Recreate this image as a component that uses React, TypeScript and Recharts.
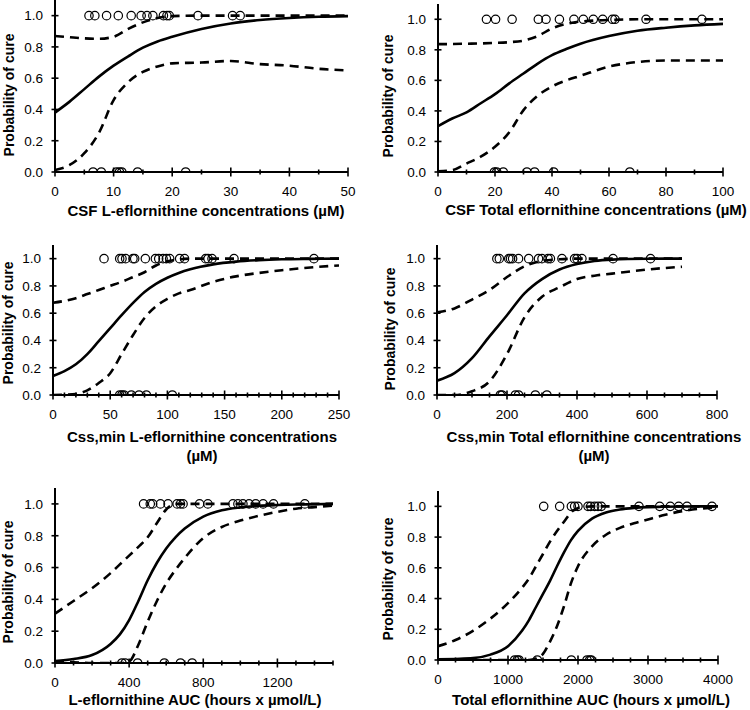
import React from "react";
import { ComposedChart, Line, Scatter, XAxis, YAxis } from "recharts";

const FONT = '"Liberation Sans", Arial, sans-serif';

// y axis (shared by all panels)
const yTicks = [0, 0.2, 0.4, 0.6, 0.8, 1.0];

// panel A: CSF L-eflornithine
const aGrid = [0, 2.5, 5, 7.5, 10, 12.5, 15, 17.5, 20, 25, 30, 35, 40, 45, 50];
const aFit = [0.38, 0.45, 0.53, 0.61, 0.68, 0.74, 0.795, 0.835, 0.865, 0.915, 0.95, 0.972, 0.985, 0.993, 0.997];
const aUpper = [0.87, 0.862, 0.855, 0.852, 0.865, 0.915, 0.957, 0.985, 0.997, 1, 1, 1, 1, 1, 1];
const aLower = [0.013, 0.045, 0.12, 0.25, 0.46, 0.575, 0.64, 0.675, 0.695, 0.7, 0.71, 0.69, 0.68, 0.66, 0.65];
const aCured = [5.8, 6.8, 8.8, 10.8, 13.0, 14.7, 15.7, 16.7, 18.5, 19.1, 19.5, 24.4, 30.3, 31.6];
const aFailed = [6.5, 7.9, 10.5, 11.0, 11.4, 14.1, 22.3];
const aMajor = [0, 10, 20, 30, 40, 50];
const aMinor = [5, 15, 25, 35, 45];

// panel B: CSF total eflornithine
const bGrid = [0, 5, 10, 15, 20, 25, 30, 35, 40, 45, 50, 60, 70, 80, 90, 100];
const bFit = [0.3, 0.35, 0.39, 0.45, 0.51, 0.58, 0.645, 0.71, 0.765, 0.805, 0.84, 0.89, 0.925, 0.945, 0.96, 0.97];
const bUpper = [0.837, 0.838, 0.84, 0.842, 0.845, 0.85, 0.86, 0.89, 0.94, 0.97, 0.985, 0.995, 1, 1, 1, 1];
const bLower = [0.005, 0.012, 0.055, 0.1, 0.165, 0.26, 0.405, 0.5, 0.56, 0.6, 0.63, 0.69, 0.72, 0.73, 0.73, 0.73];
const bCured = [17.0, 20.2, 26.0, 35.2, 37.9, 42.6, 47.7, 51.0, 54.5, 57.8, 61.2, 62.1, 73.0, 92.6];
const bFailed = [19.8, 20.6, 22.9, 31.2, 33.9, 40.6, 67.3];
const bMajor = [0, 20, 40, 60, 80, 100];
const bMinor = [10, 30, 50, 70, 90];

// panel C: Css,min L-eflornithine
const cGrid = [0, 10, 20, 30, 40, 50, 60, 70, 80, 90, 100, 110, 120, 140, 160, 180, 200, 225, 250];
const cFit = [0.14, 0.175, 0.225, 0.3, 0.395, 0.49, 0.585, 0.675, 0.755, 0.815, 0.86, 0.895, 0.922, 0.958, 0.978, 0.989, 0.995, 0.998, 1];
const cUpper = [0.676, 0.69, 0.71, 0.74, 0.77, 0.8, 0.83, 0.865, 0.9, 0.95, 0.98, 0.995, 1, 1, 1, 1, 1, 1, 1];
const cLower = [0, 0.002, 0.007, 0.034, 0.088, 0.16, 0.3, 0.44, 0.565, 0.65, 0.705, 0.745, 0.77, 0.83, 0.87, 0.895, 0.915, 0.935, 0.95];
const cCured = [44.6, 58.3, 60.3, 63.5, 69.9, 71.4, 80.7, 89.5, 92.4, 96.2, 99.1, 102, 110.7, 115, 133.4, 135.5, 139, 158.2, 228.1];
const cFailed = [58.3, 60.3, 62.1, 68.5, 75.2, 81.6, 104.3];
const cMajor = [0, 50, 100, 150, 200, 250];
const cMinor = [10, 20, 30, 40, 60, 70, 80, 90, 110, 120, 130, 140, 160, 170, 180, 190, 210, 220, 230, 240];

// panel D: Css,min total eflornithine
const dGrid = [0, 50, 100, 150, 200, 250, 300, 350, 400, 450, 500, 600, 700];
const dFit = [0.105, 0.16, 0.27, 0.43, 0.585, 0.745, 0.85, 0.92, 0.96, 0.983, 0.993, 0.999, 1];
const dUpper = [0.606, 0.635, 0.7, 0.77, 0.865, 0.944, 0.983, 0.995, 1, 1, 1, 1, 1];
const dLower = [0, 0, 0.027, 0.1, 0.3, 0.57, 0.72, 0.79, 0.85, 0.875, 0.89, 0.92, 0.94];
const dCured = [171, 178, 205, 210, 216, 233, 262, 290, 300, 317, 324, 357, 393, 400, 414, 503, 610];
const dFailed = [181, 186, 224, 233, 281, 314];
const dMajor = [0, 200, 400, 600, 800];
const dMinor = [50, 100, 150, 250, 300, 350, 450, 500, 550, 650, 700, 750];

// panel E: L-eflornithine AUC
const eGrid = [0, 100, 200, 300, 350, 400, 450, 500, 550, 600, 650, 700, 800, 900, 1000, 1100, 1200, 1300, 1400, 1500];
const eFit = [0.013, 0.025, 0.05, 0.12, 0.18, 0.27, 0.39, 0.52, 0.63, 0.72, 0.79, 0.845, 0.92, 0.96, 0.978, 0.988, 0.993, 0.996, 0.998, 1];
const eUpper = [0.31, 0.39, 0.47, 0.565, 0.62, 0.675, 0.73, 0.79, 0.88, 0.965, 1, 1, 1, 1, 1, 1, 1, 1, 1, 1];
const eLower = [0.01, 0.005, 0, 0, 0, 0.01, 0.115, 0.26, 0.39, 0.5, 0.585, 0.66, 0.785, 0.855, 0.895, 0.925, 0.95, 0.97, 0.98, 0.99];
const eCured = [478, 514, 527, 569, 610, 659, 677, 691, 780, 825, 960, 987, 1014, 1047, 1083, 1123, 1179, 1348];
const eFailed = [361, 379, 446, 590, 677, 740];
const eMajor = [0, 400, 800, 1200];
const eMinor = [100, 200, 300, 500, 600, 700, 900, 1000, 1100, 1300, 1400, 1500];

// panel F: total eflornithine AUC
const fGrid = [0, 250, 500, 750, 1000, 1200, 1300, 1400, 1500, 1600, 1700, 1800, 1900, 2000, 2200, 2400, 2600, 2800, 3000, 3200, 3500, 4000];
const fFit = [0.004, 0.007, 0.012, 0.035, 0.09, 0.19, 0.26, 0.345, 0.43, 0.515, 0.61, 0.7, 0.78, 0.84, 0.92, 0.96, 0.98, 0.99, 0.995, 0.997, 0.999, 1];
const fUpper = [0.09, 0.13, 0.19, 0.27, 0.37, 0.47, 0.53, 0.61, 0.69, 0.77, 0.84, 0.9, 0.96, 0.99, 1, 1, 1, 1, 1, 1, 1, 1];
const fLower = [0, 0, 0, 0, 0, 0, 0, 0.01, 0.04, 0.12, 0.22, 0.35, 0.5, 0.61, 0.74, 0.815, 0.86, 0.89, 0.915, 0.94, 0.97, 0.995];
const fCured = [1510, 1738, 1905, 1952, 2000, 2143, 2181, 2238, 2286, 2333, 2871, 3167, 3319, 3438, 3557, 3914];
const fFailed = [1095, 1133, 1157, 1419, 1905, 2129, 2167, 2190];
const fMajor = [0, 1000, 2000, 3000, 4000];
const fMinor = [250, 500, 750, 1250, 1500, 1750, 2250, 2500, 2750, 3250, 3500, 3750];

const YW = 70;
const XH = 80;
const MT = 5;
const MR = 45;

const toPts = (xs: number[], ys: number[]) => xs.map((x, i) => ({ x, y: ys[i] }));
const atLevel = (xs: number[], y: number) => xs.map((x) => ({ x, y }));

type PanelProps = {
  left: number; top: number; right: number; bottom: number;
  xMax: number; grid: number[]; fit: number[]; upper: number[]; lower: number[];
  cured: number[]; failed: number[]; major: number[]; minor: number[];
  title: string[]; titleX: number; titleY: number[]; yTitleX: number; yTitleY: number;
};

function Panel(p: PanelProps) {
  const plotW = p.right - p.left;
  const plotH = p.bottom - p.top;
  const width = YW + plotW + MR;
  const height = MT + plotH + XH;
  const cl = p.left - YW;
  const ct = p.top - MT;
  const axisY = MT + plotH;

  const xTick = (t: any) => {
    const v = t.payload.value;
    const big = p.major.includes(v);
    const h = big ? 4.5 : 2.5;
    return (
      <g>
        <line x1={t.x} x2={t.x} y1={axisY - h} y2={axisY + h} stroke="#000" strokeWidth={1.6} />
        {big && (
          <text x={t.x} y={axisY + 23.5} textAnchor="middle" fontSize={13.5} fontFamily={FONT} fill="#000">
            {v}
          </text>
        )}
      </g>
    );
  };

  const yTick = (t: any) => (
    <g>
      <line x1={YW - 3.5} x2={YW + 3.5} y1={t.y} y2={t.y} stroke="#000" strokeWidth={1.6} />
      <text x={YW - 12} y={t.y + 4.8} textAnchor="end" fontSize={13.5} fontFamily={FONT} fill="#000">
        {Number(t.payload.value).toFixed(1)}
      </text>
    </g>
  );

  const xTitle = () => (
    <text textAnchor="middle" fontSize={15} fontWeight="bold" fontFamily={FONT} fill="#000">
      {p.title.map((s, i) => (
        <tspan key={i} x={p.titleX - cl} y={p.titleY[i] - ct + 5}>
          {s}
        </tspan>
      ))}
    </text>
  );

  const yTitle = () => {
    const x = p.yTitleX - cl;
    const y = p.yTitleY - ct;
    return (
      <text x={x} y={y + 5} transform={`rotate(-90, ${x}, ${y})`} textAnchor="middle" fontSize={14} fontWeight="bold" fontFamily={FONT} fill="#000">
        Probability of cure
      </text>
    );
  };

  const circle = (s: any) => (
    <circle cx={s.cx} cy={s.cy} r={4.2} fill="none" stroke="#000" strokeWidth={1.2} />
  );

  const ticks = [...p.major, ...p.minor].sort((a, b) => a - b);

  return (
    <div style={{ position: "absolute", left: cl, top: ct }}>
      <ComposedChart width={width} height={height} margin={{ top: MT, right: MR, bottom: 0, left: 0 }}>
        <XAxis
          type="number"
          dataKey="x"
          domain={[0, p.xMax]}
          ticks={ticks}
          interval={0}
          allowDataOverflow
          height={XH}
          tickLine={false}
          tickSize={0}
          axisLine={{ stroke: "#000", strokeWidth: 2 }}
          tick={xTick}
          label={xTitle}
        />
        <YAxis
          type="number"
          dataKey="y"
          domain={[0, 1.1]}
          ticks={yTicks}
          interval={0}
          allowDataOverflow
          width={YW}
          tickLine={false}
          tickSize={0}
          axisLine={{ stroke: "#000", strokeWidth: 2 }}
          tick={yTick}
          label={yTitle}
        />
        <Scatter data={atLevel(p.cured, 1)} shape={circle} isAnimationActive={false} />
        <Scatter data={atLevel(p.failed, 0)} shape={circle} isAnimationActive={false} />
        <Line data={toPts(p.grid, p.upper)} dataKey="y" type="monotone" stroke="#000" strokeWidth={2.6} strokeDasharray="9 6" dot={false} isAnimationActive={false} />
        <Line data={toPts(p.grid, p.lower)} dataKey="y" type="monotone" stroke="#000" strokeWidth={2.6} strokeDasharray="9 6" dot={false} isAnimationActive={false} />
        <Line data={toPts(p.grid, p.fit)} dataKey="y" type="monotone" stroke="#000" strokeWidth={2.6} dot={false} isAnimationActive={false} />
      </ComposedChart>
    </div>
  );
}

export default function App() {
  return (
    <div style={{ position: "absolute", left: 0, top: 0, width: 750, height: 710, background: "#fff", fontFamily: FONT, overflow: "hidden" }}>
      <Panel left={55} top={0} right={348} bottom={172} xMax={50}
        grid={aGrid} fit={aFit} upper={aUpper} lower={aLower} cured={aCured} failed={aFailed}
        major={aMajor} minor={aMinor} title={["CSF L-eflornithine concentrations (\u00b5M)"]}
        titleX={206} titleY={[211]} yTitleX={9} yTitleY={95} />
      <Panel left={438} top={4} right={723} bottom={172} xMax={100}
        grid={bGrid} fit={bFit} upper={bUpper} lower={bLower} cured={bCured} failed={bFailed}
        major={bMajor} minor={bMinor} title={["CSF Total eflornithine concentrations (\u00b5M)"]}
        titleX={596} titleY={[210]} yTitleX={388} yTitleY={96} />
      <Panel left={53} top={245} right={339} bottom={395} xMax={250}
        grid={cGrid} fit={cFit} upper={cUpper} lower={cLower} cured={cCured} failed={cFailed}
        major={cMajor} minor={cMinor} title={["Css,min L-eflornithine concentrations", "(\u00b5M)"]}
        titleX={202} titleY={[437, 456]} yTitleX={8} yTitleY={323} />
      <Panel left={437} top={245} right={717} bottom={395} xMax={800}
        grid={dGrid} fit={dFit} upper={dUpper} lower={dLower} cured={dCured} failed={dFailed}
        major={dMajor} minor={dMinor} title={["Css,min Total eflornithine concentrations", "(\u00b5M)"]}
        titleX={594} titleY={[437, 456]} yTitleX={390} yTitleY={329} />
      <Panel left={55} top={488} right={333} bottom={663} xMax={1500}
        grid={eGrid} fit={eFit} upper={eUpper} lower={eLower} cured={eCured} failed={eFailed}
        major={eMajor} minor={eMinor} title={["L-eflornithine AUC (hours x \u00b5mol/L)"]}
        titleX={195} titleY={[700]} yTitleX={8} yTitleY={582} />
      <Panel left={438} top={491} right={718} bottom={660} xMax={4000}
        grid={fGrid} fit={fFit} upper={fUpper} lower={fLower} cured={fCured} failed={fFailed}
        major={fMajor} minor={fMinor} title={["Total eflornithine AUC (hours x \u00b5mol/L)"]}
        titleX={591} titleY={[700]} yTitleX={388} yTitleY={579} />
    </div>
  );
}
